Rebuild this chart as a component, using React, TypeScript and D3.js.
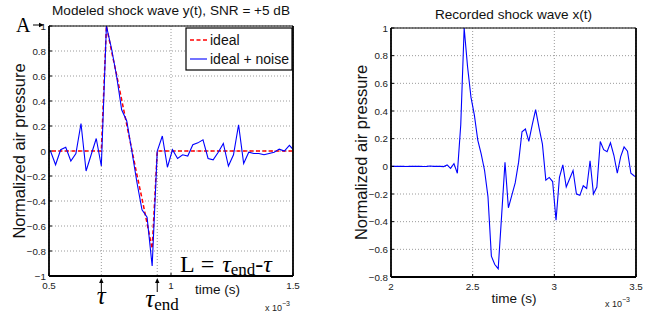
import * as d3 from 'd3'

// both signals are sampled at 48 kHz, time in ms
const sampleMs = 1 / 48

// left panel: modeled shock wave, first sample time (ms)
const modelStartMs = 0.4853
const idealWave = [
  0, 0, 0, 0, 0, 0, 0, 0, 0, 0, 0, 0,
  1, 0.8, 0.61, 0.41, 0.21, 0.01, -0.19, -0.38, -0.58, -0.78,
  0, 0, 0, 0, 0, 0, 0, 0, 0, 0, 0, 0, 0, 0, 0, 0, 0, 0, 0, 0, 0, 0, 0, 0, 0, 0, 0, 0,
]
const noisyWave = [
  0, 0, -0.11, 0.01, 0.03, -0.08, -0.02, 0.22, -0.16, -0.03, 0.1, -0.12,
  1, 0.82, 0.6, 0.33, 0.24, 0, -0.25, -0.47, -0.53, -0.92,
  0, 0.12, -0.13, 0.01, -0.06, -0.03, -0.04, 0.05, 0.065, 0.09,
  -0.06, -0.07, -0.01, 0.06, -0.12, -0.03, 0.21, -0.1, -0.01, -0.02,
  -0.02, -0.03, -0.02, -0.01, 0.015, 0, 0.045, 0,
]

// right panel: recorded shock wave
const recordStartMs = 1.98958
const recordedWave = [
  0, 0, 0.001, 0, 0, -0.001, 0, 0.001, 0, 0, -0.001, 0, 0.002, 0, 0.001, 0, -0.002,
  0.01, -0.015, 0.02, -0.05, 0.3, 1, 0.72, 0.5, 0.37, 0.19,
  0.09, -0.03, -0.22, -0.65, -0.71, -0.74, -0.36, 0.03, -0.3, -0.21,
  -0.12, 0.03, 0.25, 0.27, 0.18, 0.3, 0.41, 0.28, 0.16, -0.1,
  -0.08, -0.11, -0.39, -0.08, 0.01, -0.15, -0.09, -0.03, -0.2, -0.21,
  -0.14, -0.16, 0.04, -0.2, -0.15, 0.18, 0.12, 0.105, 0.17, 0.08,
  -0.05, 0.07, 0.14, 0.11, -0.05, -0.07, -0.08,
]

const leftXTicks = [0.5, 1, 1.5]
const leftYTicks = [-1, -0.8, -0.6, -0.4, -0.2, 0, 0.2, 0.4, 0.6, 0.8, 1]
const rightXTicks = [2, 2.5, 3, 3.5]
const rightYTicks = [-0.8, -0.6, -0.4, -0.2, 0, 0.2, 0.4, 0.6, 0.8, 1]

const legendItems = ['ideal', 'ideal + noise']

const sans = 'Liberation Sans, Arial, Helvetica, sans-serif'
const serif = 'Liberation Serif, Times New Roman, serif'
const fmt = d3.format('~g')

type Scale = d3.ScaleLinear<number, number>

function Axes({ id, x, y, xTicks, yTicks, title, titleY, xLabelX, xLabelY, expY, expGap, children }: {
  id: string; x: Scale; y: Scale; xTicks: number[]; yTicks: number[]
  title: string; titleY: number; xLabelX: number; xLabelY: number; expY: number; expGap: number; children?: any
}) {
  const [left, right] = x.range()
  const [bottom, top] = y.range()
  const mid = (left + right) / 2
  return (
    <g>
      <clipPath id={id}>
        <rect x={left} y={top} width={right - left} height={bottom - top} />
      </clipPath>
      <rect x={left} y={top} width={right - left} height={bottom - top} fill="#fff" />
      {xTicks.map(t => (
        <line key={'gx' + t} x1={x(t)} x2={x(t)} y1={top} y2={bottom}
          stroke="#9a9a9a" strokeDasharray="1,2" />
      ))}
      {yTicks.map(t => (
        <line key={'gy' + t} x1={left} x2={right} y1={y(t)} y2={y(t)}
          stroke="#9a9a9a" strokeDasharray="1,2" />
      ))}
      <g clipPath={`url(#${id})`}>{children}</g>
      {/* frame */}
      <line x1={left} x2={right} y1={top} y2={top} stroke="#000" strokeWidth={1} />
      <line x1={left} x2={left} y1={top} y2={bottom} stroke="#000" strokeWidth={1.8} />
      <line x1={right} x2={right} y1={top} y2={bottom} stroke="#000" strokeWidth={1.8} />
      <line x1={left} x2={right} y1={bottom} y2={bottom} stroke="#000" strokeWidth={1.8} />
      {xTicks.map(t => (
        <line key={'tx' + t} x1={x(t)} x2={x(t)} y1={bottom} y2={bottom - 3} stroke="#000" />
      ))}
      {yTicks.map(t => (
        <line key={'ty' + t} x1={left} x2={left + 3} y1={y(t)} y2={y(t)} stroke="#000" />
      ))}
      {/* tick labels */}
      <g fontFamily={sans} fontSize={9.8} fill="#222">
        {xTicks.map(t => (
          <text key={'lx' + t} x={x(t)} y={bottom + 12.5} textAnchor="middle">{fmt(t)}</text>
        ))}
        {yTicks.map(t => (
          <text key={'ly' + t} x={left - 3} y={y(t) + 3.5} textAnchor="end">{fmt(t)}</text>
        ))}
        <text x={right - expGap} y={expY} textAnchor="end" fontSize={9}>
          x 10<tspan dy={-5} fontSize={7}>−3</tspan>
        </text>
      </g>
      <text x={mid} y={titleY} textAnchor="middle" fontFamily={sans} fontSize={13.6} fill="#111">{title}</text>
      <text x={xLabelX} y={xLabelY} textAnchor="middle" fontFamily={sans} fontSize={13.5} fill="#111">time (s)</text>
      <text transform={`translate(${left - 24},${(top + bottom) / 2}) rotate(-90)`} textAnchor="middle"
        fontFamily={sans} fontSize={16.5} fill="#111">Normalized air pressure</text>
    </g>
  )
}

function Arrow({ x1, y1, x2, y2 }: { x1: number; y1: number; x2: number; y2: number }) {
  const a = Math.atan2(y2 - y1, x2 - x1)
  const h = 5
  const w = 2.2
  const p = [
    [x2, y2],
    [x2 - h * Math.cos(a) + w * Math.sin(a), y2 - h * Math.sin(a) - w * Math.cos(a)],
    [x2 - h * Math.cos(a) - w * Math.sin(a), y2 - h * Math.sin(a) + w * Math.cos(a)],
  ]
  return (
    <g>
      <line x1={x1} y1={y1} x2={x2 - 3 * Math.cos(a)} y2={y2 - 3 * Math.sin(a)} stroke="#000" strokeWidth={1} />
      <polygon points={p.map(d => d.join(',')).join(' ')} fill="#000" />
    </g>
  )
}

export default function App() {
  const xL = d3.scaleLinear().domain([0.5, 1.5]).range([49, 293])
  const yL = d3.scaleLinear().domain([-1, 1]).range([276, 26])
  const xR = d3.scaleLinear().domain([2, 3.5]).range([391, 636])
  const yR = d3.scaleLinear().domain([-0.8, 1]).range([277, 28])

  const lineL = d3.line<number>()
    .x((_, i) => xL(modelStartMs + i * sampleMs))
    .y(v => yL(v))
  const lineR = d3.line<number>()
    .x((_, i) => xR(recordStartMs + i * sampleMs))
    .y(v => yR(v))

  // tau = last zero sample before the shock, tau_end = first zero sample after it
  const firstIdx = idealWave.findIndex(v => v !== 0)
  let lastIdx = idealWave.length - 1
  while (idealWave[lastIdx] === 0) lastIdx--
  const tau = modelStartMs + (firstIdx - 1) * sampleMs
  const tauEnd = modelStartMs + (lastIdx + 1) * sampleMs
  const bottomL = yL(-1)

  return (
    <svg width={667} height={322} style={{ position: 'absolute', left: 0, top: 0, background: '#fff' }}>
      <Axes id="clipL" x={xL} y={yL} xTicks={leftXTicks} yTicks={leftYTicks}
        title="Modeled shock wave y(t), SNR = +5 dB" titleY={15}
        xLabelX={217.5} xLabelY={294} expY={311} expGap={3}>
        {[tau, tauEnd].map(t => (
          <line key={t} x1={xL(t)} x2={xL(t)} y1={yL(0)} y2={bottomL} stroke="#9a9a9a" strokeDasharray="1,2" />
        ))}
        <path d={lineL(idealWave) ?? ''} fill="none" stroke="#ff0000" strokeWidth={1.5} strokeDasharray="4,2.5" />
        <path d={lineL(noisyWave) ?? ''} fill="none" stroke="#0000ff" strokeWidth={1.1} />
      </Axes>

      {/* legend */}
      <g fontFamily={sans} fontSize={14} fill="#111">
        <rect x={186} y={28} width={106} height={42} fill="#fff" stroke="#000" strokeWidth={1.2} />
        {legendItems.map((name, i) => (
          <g key={name} transform={`translate(0,${40 + i * 19})`}>
            <line x1={190} x2={207} y1={0} y2={0}
              stroke={i === 0 ? '#ff0000' : '#0000ff'} strokeWidth={i === 0 ? 1.5 : 1.1}
              strokeDasharray={i === 0 ? '4,2.5' : undefined} />
            <text x={210} y={5}>{name}</text>
          </g>
        ))}
      </g>

      {/* annotations */}
      <g fontFamily={serif} fill="#000">
        <text x={16} y={32} fontSize={20}>A</text>
        <Arrow x1={33} y1={25} x2={44} y2={25} />
        <text x={180} y={272} fontSize={24}>
          L<tspan dx={6}>=</tspan>
          <tspan dx={8} fontStyle="italic">τ</tspan>
          <tspan fontSize={17} dy={3}>end</tspan>
          <tspan dy={-3}>-</tspan>
          <tspan fontStyle="italic">τ</tspan>
        </text>
        <Arrow x1={xL(tau)} y1={292} x2={xL(tau)} y2={278} />
        <Arrow x1={xL(tauEnd)} y1={292} x2={xL(tauEnd)} y2={278} />
        <text x={xL(tau)} y={304} fontSize={25} fontStyle="italic" textAnchor="middle">τ</text>
        <text x={xL(tauEnd) - 12} y={307} fontSize={25}>
          <tspan fontStyle="italic">τ</tspan>
          <tspan fontSize={17} dy={3}>end</tspan>
        </text>
      </g>

      <Axes id="clipR" x={xR} y={yR} xTicks={rightXTicks} yTicks={rightYTicks}
        title="Recorded shock wave x(t)" titleY={19}
        xLabelX={514} xLabelY={303} expY={306.5} expGap={6}>
        <path d={lineR(recordedWave) ?? ''} fill="none" stroke="#0000ff" strokeWidth={1.1} />
      </Axes>
    </svg>
  )
}
